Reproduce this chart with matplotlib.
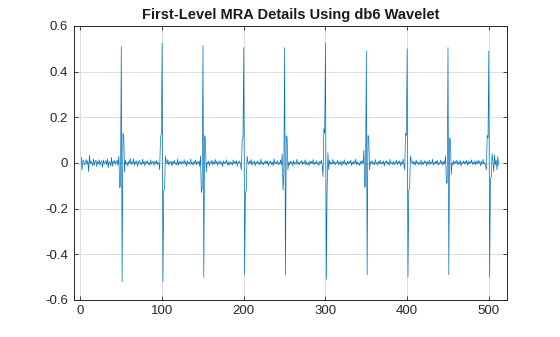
import numpy as np
import matplotlib
matplotlib.use("Agg")
import matplotlib.pyplot as plt

# baseline detail coefficients (in thousandths)
noise = [
    25, -32, 14, 6, -9, 4, 15, -7, 10, -38, 34, -5, 8, 1, -12, 18, -10, 5, 12, -16, 6, -3, 14, -11, 4, 9, -19, 13, -6, 2, 10, -8,
    17, -21, 6, 3, -12, 24, -15, 8, -2, 11, -7, 1, 13, -10, 4, -3, 5, -6, 9, -4, 2, -8, 12, -5, 3, -14, 7, -2, 20, -9, 5, -3,
    18, -11, 6, -4, 9, -15, 3, 12, -6, 2, -9, 16, -4, 7, -13, 5, -2, 10, -7, 3, -11, 14, -5, 2, 8, -12, 6, -3, 11, -8, 4, -2,
    13, -20, 9, -4, 6, -10, 22, -7, 3, -5, 15, -9, 4, -2, 8, -14, 6, -3, 12, -6, 2, -9, 18, -11, 5, -4, 9, -7, 3, -2, 14, -6,
    7, -13, 10, -4, 3, -8, 17, -5, 2, -11, 6, -3, 13, -9, 4, -2, 8, -15, 5, -3, 11, -6, 2, -10, 19, -7, 3, -4, 9, -12, 5, -2,
    12, -9, 4, -6, 15, -3, 8, -12, 5, -2, 10, -7, 3, -16, 9, -4, 6, -2, 14, -8, 3, -11, 7, -5, 2, -9, 13, -4, 6, -3, 10, -14,
    5, -2, 9, -7, 16, -4, 3, -10, 6, -2, 12, -9, 4, -6, 8, -3, 15, -11, 5, -2, 7, -13, 4, -3, 10, -6, 2, -8, 17, -5, 3, -9,
    6, -4, 11, -3, 8, -14, 5, -2, 9, -7, 3, -12, 18, -6, 4, -3, 10, -8, 2, -5, 13, -9, 6, -4, 3, -11, 7, -2, 12, -6, 4, -10,
    8, -3, 5, -13, 10, -4, 2, -7, 16, -5, 3, -9, 6, -2, 11, -8, 4, -3, 14, -10, 5, -6, 2, -12, 9, -4, 7, -3, 15, -8, 3, -5,
    10, -6, 2, -11, 7, -3, 13, -9, 4, -2, 8, -15, 6, -4, 3, -10, 12, -5, 2, -7, 16, -3, 5, -9, 4, -2, 11, -8, 3, -6, 9, -13,
    5, -3, 14, -7, 2, -10, 8, -4, 6, -2, 12, -11, 3, -5, 9, -3, 17, -8, 4, -6, 2, -12, 7, -3, 10, -5, 3, -9, 13, -4, 6, -2,
    9, -14, 5, -3, 11, -6, 2, -8, 15, -4, 3, -10, 7, -2, 12, -7, 4, -3, 9, -13, 6, -2, 10, -5, 3, -11, 16, -4, 2, -6, 8, -9,
    4, -2, 13, -8, 6, -3, 10, -12, 3, -5, 17, -6, 2, -9, 8, -4, 11, -3, 5, -14, 7, -2, 9, -6, 4, -10, 12, -3, 6, -8, 2, -5,
    14, -9, 3, -6, 10, -2, 7, -13, 5, -4, 12, -7, 3, -2, 16, -10, 4, -5, 8, -3, 11, -9, 2, -6, 13, -4, 5, -11, 7, -3, 9, -2,
    6, -12, 4, -3, 15, -7, 2, -9, 10, -4, 6, -2, 13, -8, 3, -5, 11, -14, 4, -2, 9, -6, 7, -3, 12, -10, 5, -4, 8, -2, 14, -7,
    3, -5, 10, -9, 6, -2, 12, -4, 8, -13, 5, -3, 16, -6, 2, -10, 7, -4, 11, -3, 5, -12, 9, -2, 6, -38, 35, -8, 12, -30, 28, -10,
]

# spike locations and the samples around each one (offsets -3 .. +4)
spike_pos = [50, 100, 150, 200, 250, 300, 350, 400, 450, 500]
spike_windows = [
    [0.03, -0.11, -0.10, 0.51, -0.52, 0.13, 0.12, -0.04],
    [-0.03, 0.11, 0.13, 0.525, -0.52, -0.125, -0.11, 0.03],
    [0.03, -0.13, -0.11, 0.515, -0.50, 0.12, 0.11, -0.04],
    [-0.03, 0.10, 0.11, 0.505, -0.49, -0.13, -0.12, 0.03],
    [0.04, -0.12, -0.05, 0.505, -0.49, 0.12, 0.11, -0.03],
    [-0.06, 0.15, 0.13, 0.525, -0.51, -0.12, 0.045, -0.03],
    [0.056, -0.107, -0.10, 0.49, -0.49, 0.122, 0.11, -0.03],
    [-0.03, 0.13, 0.12, 0.50, -0.50, -0.12, -0.11, 0.03],
    [0.03, -0.09, -0.085, 0.505, -0.49, 0.11, 0.10, -0.05],
    [-0.03, 0.12, 0.11, 0.49, -0.50, -0.07, -0.06, 0.04],
]

ytick_vals = [-0.6, -0.4, -0.2, 0, 0.2, 0.4, 0.6]
ytick_labels = ['-0.6', '-0.4', '-0.2', '0', '0.2', '0.4', '0.6']
xtick_vals = [0, 100, 200, 300, 400, 500]

d = np.array(noise, dtype=float) / 1000.0
for p, w in zip(spike_pos, spike_windows):
    i0 = p - 1 - 3
    d[i0:i0 + len(w)] = w
n = np.arange(1, len(d) + 1)

plt.rcParams['font.family'] = ['Liberation Sans', 'DejaVu Sans']
plt.rcParams['axes.unicode_minus'] = False

fig = plt.figure(figsize=(5.6, 3.37), dpi=100)
ax = fig.add_axes([0.132, 0.110, 0.773, 0.813])
ax.plot(n, d, color='#0072BD', lw=0.5)

ax.set_xlim(-8, 522)
ax.set_ylim(-0.6, 0.6)
ax.set_xticks(xtick_vals)
ax.set_yticks(ytick_vals)
ax.set_yticklabels(ytick_labels)
ax.grid(True, color='#dcdcdc', lw=0.7)
ax.set_axisbelow(True)
ax.tick_params(direction='in', length=3, width=0.6, colors='#262626',
               labelsize=9.5, top=True, right=True, pad=4)
for s in ax.spines.values():
    s.set_color('#262626')
    s.set_linewidth(0.7)
ax.set_title('First-Level MRA Details Using db6 Wavelet', fontsize=10.5,
             fontweight='bold', color='#1a1a1a', pad=5)

fig.savefig('out.png', dpi=100)
